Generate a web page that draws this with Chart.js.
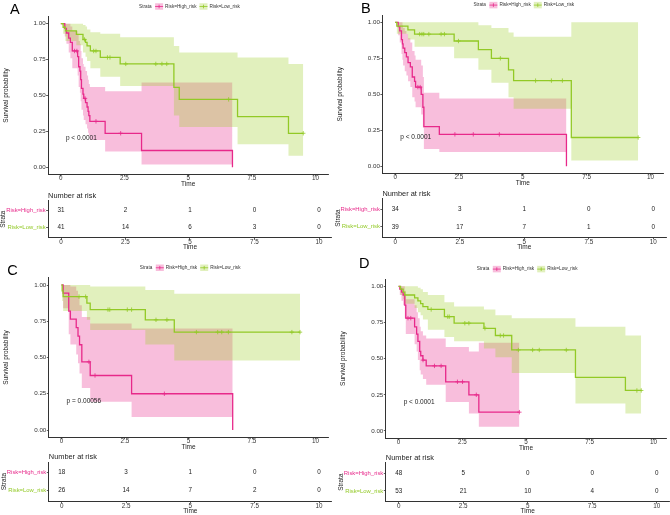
<!DOCTYPE html>
<html><head><meta charset="utf-8">
<script src="https://cdn.jsdelivr.net/npm/chart.js@4.4.1/dist/chart.umd.min.js"></script>
<style>
html,body{margin:0;padding:0;background:#fff;width:670px;height:515px;overflow:hidden;position:relative}
canvas{position:absolute}
</style></head><body>
<script>
// ---------------- DATA ----------------
const xTickValues = [0, 2.5, 5, 7.5, 10];
const xTickLabels = ['0', '2.5', '5', '7.5', '10'];
const yTickValues = [0, 0.25, 0.5, 0.75, 1];
const yTickLabels = ['0.00', '0.25', '0.50', '0.75', '1.00'];
const strataNames = ['Risk=High_risk', 'Risk=Low_risk'];
const pValues = ['p < 0.0001', 'p < 0.0001', 'p = 0.00056', 'p < 0.0001'];
const panelLetters = ['A', 'B', 'C', 'D'];
const riskTimes = [0, 2.5, 5, 7.5, 10];

// Panel A
const aHighTime  = [0, 0.155, 0.22, 0.31, 0.375, 0.45, 0.66, 0.70, 0.75, 0.78, 0.81, 0.87, 0.90, 0.97, 1.03, 1.07, 1.10, 1.14, 1.74, 3.17, 6.74];
const aHighSurv  = [1, 0.968, 0.935, 0.90, 0.87, 0.81, 0.77, 0.70, 0.67, 0.61, 0.55, 0.51, 0.48, 0.45, 0.42, 0.39, 0.36, 0.32, 0.237, 0.117, 0];
const aHighUpper = [1, 1, 1, 1, 0.98, 0.95, 0.93, 0.88, 0.86, 0.81, 0.76, 0.72, 0.70, 0.67, 0.64, 0.61, 0.58, 0.56, 0.53, 0.59, 0.59];
const aHighLower = [1, 0.91, 0.86, 0.80, 0.76, 0.69, 0.64, 0.56, 0.52, 0.46, 0.40, 0.36, 0.33, 0.30, 0.27, 0.24, 0.22, 0.19, 0.11, 0.02, 0.02];
const aHighCensor = [0.54, 0.63, 0.95, 1.38, 2.35];
const aLowTime  = [0, 0.09, 0.18, 0.61, 0.87, 0.97, 1.03, 1.16, 1.55, 2.33, 4.44, 4.65, 6.94, 8.94, 9.52];
const aLowSurv  = [1, 0.975, 0.95, 0.925, 0.89, 0.87, 0.845, 0.81, 0.765, 0.72, 0.557, 0.473, 0.353, 0.237, 0.237];
const aLowUpper = [1, 1, 1, 1, 0.99, 0.98, 0.96, 0.94, 0.93, 0.905, 0.845, 0.80, 0.765, 0.72, 0.72];
const aLowLower = [1, 0.93, 0.88, 0.85, 0.80, 0.77, 0.74, 0.69, 0.63, 0.566, 0.36, 0.28, 0.16, 0.08, 0.08];
const aLowCensor = [0.93, 1.29, 1.38, 1.83, 1.93, 2.55, 3.73, 3.97, 4.16, 6.59, 9.52];
const aRiskHigh = [31, 2, 1, 0, 0];
const aRiskLow  = [41, 14, 6, 3, 0];

// Panel B
const bHighTime  = [0, 0.118, 0.18, 0.247, 0.285, 0.31, 0.376, 0.44, 0.505, 0.595, 0.67, 0.76, 0.80, 1.02, 1.086, 1.125, 1.73, 6.71];
const bHighSurv  = [1, 0.97, 0.94, 0.88, 0.85, 0.82, 0.79, 0.76, 0.72, 0.69, 0.62, 0.59, 0.55, 0.50, 0.41, 0.275, 0.222, 0];
const bHighUpper = [1, 1, 1, 1, 0.98, 0.96, 0.94, 0.92, 0.89, 0.86, 0.80, 0.77, 0.74, 0.70, 0.62, 0.51, 0.47, 0.47];
const bHighLower = [1, 0.91, 0.86, 0.78, 0.74, 0.70, 0.66, 0.63, 0.59, 0.55, 0.48, 0.45, 0.41, 0.36, 0.27, 0.12, 0.10, 0.10];
const bHighCensor = [0.89, 0.98, 2.34, 3.06, 4.08];
const bLowTime  = [0, 0.065, 0.50, 0.76, 2.31, 3.26, 3.77, 4.44, 4.64, 6.90, 9.52];
const bLowSurv  = [1, 0.974, 0.947, 0.918, 0.87, 0.81, 0.75, 0.67, 0.595, 0.20, 0.20];
const bLowUpper = [1, 1, 1, 1, 1, 0.98, 0.96, 0.93, 0.90, 1, 1];
const bLowLower = [1, 0.92, 0.88, 0.83, 0.75, 0.67, 0.58, 0.48, 0.40, 0.04, 0.04];
const bLowCensor = [0.96, 1.05, 1.12, 1.32, 1.80, 1.93, 2.48, 4.12, 5.50, 6.12, 6.55, 9.52];
const bRiskHigh = [34, 3, 1, 0, 0];
const bRiskLow  = [39, 17, 7, 1, 0];

// Panel C
const cHighTime  = [0, 0.065, 0.285, 0.35, 0.58, 0.65, 0.71, 0.80, 1.13, 2.76, 6.74];
const cHighSurv  = [1, 0.944, 0.82, 0.765, 0.706, 0.647, 0.588, 0.47, 0.376, 0.25, 0];
const cHighUpper = [1, 1, 1, 0.99, 0.96, 0.92, 0.86, 0.78, 0.735, 0.70, 0.70];
const cHighLower = [1, 0.84, 0.66, 0.59, 0.52, 0.46, 0.39, 0.29, 0.195, 0.09, 0.09];
const cHighCensor = [1.08, 1.32, 4.05];
const cLowTime  = [0, 0.026, 0.065, 1.0, 1.13, 3.30, 4.44, 9.39];
const cLowSurv  = [1, 0.96, 0.92, 0.875, 0.83, 0.76, 0.675, 0.675];
const cLowUpper = [1, 1, 1, 1, 0.99, 0.965, 0.94, 0.94];
const cLowLower = [1, 0.89, 0.82, 0.76, 0.69, 0.59, 0.48, 0.48];
const cLowCensor = [0.69, 0.95, 1.83, 1.90, 2.59, 2.76, 3.72, 4.15, 5.31, 6.15, 6.31, 6.57, 9.07, 9.39];
const cRiskHigh = [18, 3, 1, 0, 0];
const cRiskLow  = [26, 14, 7, 2, 0];

// Panel D
const dHighTime  = [0, 0.05, 0.116, 0.18, 0.245, 0.284, 0.63, 0.71, 0.76, 0.83, 0.87, 0.956, 1.085, 1.85, 2.76, 3.15, 4.74];
const dHighSurv  = [1, 0.98, 0.96, 0.94, 0.87, 0.78, 0.72, 0.67, 0.62, 0.55, 0.52, 0.49, 0.45, 0.34, 0.25, 0.13, 0.13];
const dHighUpper = [1, 1, 1, 1, 0.97, 0.91, 0.87, 0.82, 0.78, 0.72, 0.69, 0.66, 0.64, 0.58, 0.55, 0.61, 0.61];
const dHighLower = [1, 0.94, 0.90, 0.87, 0.78, 0.67, 0.60, 0.55, 0.49, 0.42, 0.39, 0.36, 0.32, 0.20, 0.12, 0.03, 0.03];
const dHighCensor = [0.37, 0.48, 0.96, 1.41, 1.67, 2.31, 2.51, 3.05, 4.74];
const dLowTime  = [0, 0.078, 0.18, 0.245, 0.63, 0.76, 0.866, 0.956, 1.15, 1.80, 2.18, 3.35, 3.80, 4.44, 6.94, 8.90, 9.52];
const dLowSurv  = [1, 0.98, 0.96, 0.94, 0.92, 0.90, 0.88, 0.86, 0.84, 0.79, 0.745, 0.71, 0.66, 0.56, 0.37, 0.28, 0.28];
const dLowUpper = [1, 1, 1, 1, 1, 0.99, 0.98, 0.96, 0.94, 0.89, 0.86, 0.84, 0.80, 0.78, 0.72, 0.66, 0.66];
const dLowLower = [1, 0.94, 0.91, 0.88, 0.85, 0.82, 0.80, 0.77, 0.70, 0.65, 0.62, 0.57, 0.51, 0.40, 0.19, 0.12, 0.12];
const dLowCensor = [1.28, 1.93, 1.99, 2.60, 2.76, 3.39, 3.99, 4.12, 4.70, 5.26, 5.52, 6.58, 9.35, 9.52];
const dRiskHigh = [48, 5, 0, 0, 0];
const dRiskLow  = [53, 21, 10, 4, 0];

// ---------------- STYLE / LAYOUT ----------------
const FONT = "'Liberation Sans', Arial, Helvetica, sans-serif";
Chart.defaults.font.family = FONT;
const PINK = 'rgb(231,41,138)';
const GREEN = 'rgb(146,201,38)';
const PINK_FILL = 'rgba(231,41,138,0.3)';
const GREEN_FILL = 'rgba(154,206,37,0.3)';
const AXIS = '#333333';
const TXT = '#222222';
const TOP_SPACE = 26;

const layoutPanels = [
  {L: 48.1, R: 331.9, T: 16.5, B: 174.5, tT: 200.5, tB: 237.9, letterX: 10, letterY: 14},
  {L: 382.4, R: 666.2, T: 15.1, B: 173.5, tT: 198.8, tB: 237.3, letterX: 361, letterY: 13.3},
  {L: 48.8, R: 331.9, T: 277.75, B: 437.25, tT: 462.0, tB: 501.2, letterX: 7.3, letterY: 274.7},
  {L: 385.8, R: 669.6, T: 279.1, B: 438.2, tT: 462.7, tB: 501.6, letterX: 359, letterY: 268.3}
];

const groupsData = [
  [{t: aHighTime, s: aHighSurv, u: aHighUpper, l: aHighLower, c: aHighCensor},
   {t: aLowTime, s: aLowSurv, u: aLowUpper, l: aLowLower, c: aLowCensor}, aRiskHigh, aRiskLow],
  [{t: bHighTime, s: bHighSurv, u: bHighUpper, l: bHighLower, c: bHighCensor},
   {t: bLowTime, s: bLowSurv, u: bLowUpper, l: bLowLower, c: bLowCensor}, bRiskHigh, bRiskLow],
  [{t: cHighTime, s: cHighSurv, u: cHighUpper, l: cHighLower, c: cHighCensor},
   {t: cLowTime, s: cLowSurv, u: cLowUpper, l: cLowLower, c: cLowCensor}, cRiskHigh, cRiskLow],
  [{t: dHighTime, s: dHighSurv, u: dHighUpper, l: dHighLower, c: dHighCensor},
   {t: dLowTime, s: dLowSurv, u: dLowUpper, l: dLowLower, c: dLowCensor}, dRiskHigh, dRiskLow]
];

function survAt(g, x) {
  let v = g.s[0];
  for (let i = 0; i < g.t.length; i++) { if (g.t[i] <= x) v = g.s[i]; }
  return v;
}

function addCanvas(left, top, w, h) {
  const c = document.createElement('canvas');
  c.width = w; c.height = h;
  c.style.left = left + 'px'; c.style.top = top + 'px';
  c.style.width = w + 'px'; c.style.height = h + 'px';
  document.body.appendChild(c);
  return c;
}

function xScaleOpts(tickPad) {
  return {
    type: 'linear', min: -0.5, max: 10.5,
    afterBuildTicks: s => { s.ticks = xTickValues.map(v => ({value: v})); },
    afterFit: s => { s.height = 14; },
    ticks: {callback: v => xTickLabels[xTickValues.indexOf(v)], font: {size: 6.3}, color: AXIS,
            padding: tickPad, maxRotation: 0, autoSkip: false},
    grid: {display: true, drawOnChartArea: false, drawTicks: true, tickLength: 2, color: AXIS, lineWidth: 0.8},
    border: {display: true, color: AXIS, width: 1},
    title: {display: true, text: 'Time', font: {size: 6.5}, color: TXT, padding: {top: 0, bottom: 0.5}}
  };
}

function legendSwatch(ctx, x, y, col, fill) {
  const w = 8, h = 6.5;
  ctx.fillStyle = '#fff'; ctx.fillRect(x, y - h / 2, w, h);
  ctx.fillStyle = fill; ctx.fillRect(x, y - h / 2, w, h);
  ctx.strokeStyle = col; ctx.lineWidth = 0.8;
  ctx.beginPath(); ctx.moveTo(x, y); ctx.lineTo(x + w, y);
  ctx.moveTo(x + w / 2, y - 1.8); ctx.lineTo(x + w / 2, y + 1.8);
  ctx.stroke();
}

function makeSurvival(idx) {
  const p = layoutPanels[idx];
  const [gh, gl] = groupsData[idx];
  const cl = Math.floor(p.L - 49), ct = Math.floor(p.T - TOP_SPACE);
  const padL = (p.L - 49) - cl, padT = p.T - ct;
  const W = Math.ceil(padL + 49 + (p.R - p.L) + 1);
  const H = Math.ceil(padT + (p.B - p.T) + 14 + 1);
  const padR = W - padL - 49 - (p.R - p.L);
  const padB = H - padT - (p.B - p.T) - 14;
  const canvas = addCanvas(cl, ct, W, H);

  const band = (g, fill, order) => [
    {data: g.t.map((x, i) => ({x, y: g.u[i]})), stepped: true, borderColor: 'rgba(0,0,0,0)', borderWidth: 0,
     pointRadius: 0, fill: '+1', backgroundColor: fill, order},
    {data: g.t.map((x, i) => ({x, y: g.l[i]})), stepped: true, borderColor: 'rgba(0,0,0,0)', borderWidth: 0,
     pointRadius: 0, fill: false, order}
  ];
  const curve = (g, col, order, label) => ({label, data: g.t.map((x, i) => ({x, y: g.s[i]})), stepped: true,
    borderColor: col, borderWidth: 1.3, pointRadius: 0, fill: false, order});
  const cens = (g, col, order) => ({data: g.c.map(x => ({x, y: survAt(g, x)})), showLine: false,
    pointStyle: 'cross', pointRadius: 2.2, pointBorderColor: col, pointBorderWidth: 0.8, borderColor: col, order});

  const decor = {
    id: 'decor' + idx,
    afterDraw(chart) {
      const ctx = chart.ctx, ca = chart.chartArea;
      const xs = chart.scales.x, ys = chart.scales.y;
      ctx.save();
      ctx.fillStyle = '#000'; ctx.font = '14.5px ' + FONT; ctx.textAlign = 'left'; ctx.textBaseline = 'alphabetic';
      ctx.fillText(panelLetters[idx], p.letterX - cl, p.letterY - ct);
      const ly = ca.top - 10;
      let lx = ca.left + 91;
      ctx.font = '4.7px ' + FONT; ctx.textBaseline = 'middle'; ctx.fillStyle = AXIS;
      ctx.fillText('Strata', lx, ly); lx += ctx.measureText('Strata').width + 3.5;
      legendSwatch(ctx, lx, ly, PINK, PINK_FILL); lx += 10;
      ctx.fillStyle = AXIS; ctx.fillText(strataNames[0], lx, ly); lx += ctx.measureText(strataNames[0]).width + 3;
      legendSwatch(ctx, lx, ly, GREEN, GREEN_FILL); lx += 10;
      ctx.fillStyle = AXIS; ctx.fillText(strataNames[1], lx, ly);
      ctx.font = '6.5px ' + FONT; ctx.fillStyle = TXT;
      ctx.fillText(pValues[idx], xs.getPixelForValue(0.2), ys.getPixelForValue(0.2));
      ctx.restore();
    }
  };

  new Chart(canvas, {
    type: 'line',
    data: {datasets: [
      ...band(gh, PINK_FILL, 20), ...band(gl, GREEN_FILL, 10),
      curve(gh, PINK, 3, strataNames[0]), curve(gl, GREEN, 2, strataNames[1]),
      cens(gh, PINK, 1), cens(gl, GREEN, 0)
    ]},
    options: {
      responsive: false, animation: false, events: [],
      layout: {padding: {left: padL, top: padT, right: padR, bottom: padB}},
      plugins: {legend: {display: false}, tooltip: {enabled: false}},
      scales: {
        x: xScaleOpts(-2),
        y: {
          type: 'linear', min: -0.05, max: 1.05,
          afterBuildTicks: s => { s.ticks = yTickValues.map(v => ({value: v})); },
          afterFit: s => { s.width = 49; },
          ticks: {callback: v => yTickLabels[yTickValues.indexOf(v)], font: {size: 6.2}, color: AXIS, padding: 0.5},
          grid: {display: true, drawOnChartArea: false, drawTicks: true, tickLength: 2, color: AXIS, lineWidth: 0.8},
          border: {display: true, color: AXIS, width: 1},
          title: {display: true, text: 'Survival probability', font: {size: 6.5}, color: TXT, padding: {top: 3, bottom: 0}}
        }
      }
    },
    plugins: [decor]
  });
}

function makeTable(idx) {
  const p = layoutPanels[idx];
  const riskHigh = groupsData[idx][2], riskLow = groupsData[idx][3];
  const cl = Math.floor(p.L - 49), ct = Math.floor(p.tT - 14);
  const padL = (p.L - 49) - cl, padT = p.tT - ct;
  const W = Math.ceil(padL + 49 + (p.R - p.L) + 1);
  const H = Math.ceil(padT + (p.tB - p.tT) + 14 + 1);
  const padR = W - padL - 49 - (p.R - p.L);
  const padB = H - padT - (p.tB - p.tT) - 14;
  const canvas = addCanvas(cl, ct, W, H);

  const numbers = {
    id: 'numbers' + idx,
    afterDatasetsDraw(chart) {
      const ctx = chart.ctx, ca = chart.chartArea;
      ctx.save();
      ctx.font = '7.4px ' + FONT; ctx.fillStyle = TXT; ctx.textAlign = 'left'; ctx.textBaseline = 'middle';
      ctx.fillText('Number at risk', ca.left, ca.top - 5);
      ctx.font = '6.3px ' + FONT; ctx.textAlign = 'center';
      chart.data.datasets.forEach((ds, di) => {
        chart.getDatasetMeta(di).data.forEach((el, i) => {
          ctx.fillText(String(ds.data[i].n), el.x, el.y);
        });
      });
      ctx.restore();
    }
  };

  new Chart(canvas, {
    type: 'scatter',
    data: {datasets: [
      {label: strataNames[0], data: riskTimes.map((x, i) => ({x, y: 1, n: riskHigh[i]})), pointRadius: 0},
      {label: strataNames[1], data: riskTimes.map((x, i) => ({x, y: 2, n: riskLow[i]})), pointRadius: 0}
    ]},
    options: {
      responsive: false, animation: false, events: [],
      layout: {padding: {left: padL, top: padT, right: padR, bottom: padB}},
      plugins: {legend: {display: false}, tooltip: {enabled: false}},
      scales: {
        x: xScaleOpts(-1),
        y: {
          type: 'linear', min: 0.4, max: 2.6, reverse: true,
          afterBuildTicks: s => { s.ticks = [{value: 1}, {value: 2}]; },
          afterFit: s => { s.width = 49; },
          ticks: {callback: v => strataNames[v - 1], font: {size: 5.9},
                  color: c => (c.tick && c.tick.value === 1) ? PINK : GREEN, padding: 0.5},
          grid: {display: true, drawOnChartArea: false, drawTicks: true, tickLength: 2, color: AXIS, lineWidth: 0.8},
          border: {display: true, color: AXIS, width: 1},
          title: {display: true, text: 'Strata', font: {size: 6.5}, color: TXT, padding: {top: 0.5, bottom: 0}}
        }
      }
    },
    plugins: [numbers]
  });
}

for (let i = 0; i < 4; i++) { makeSurvival(i); makeTable(i); }
</script>
</body></html>
